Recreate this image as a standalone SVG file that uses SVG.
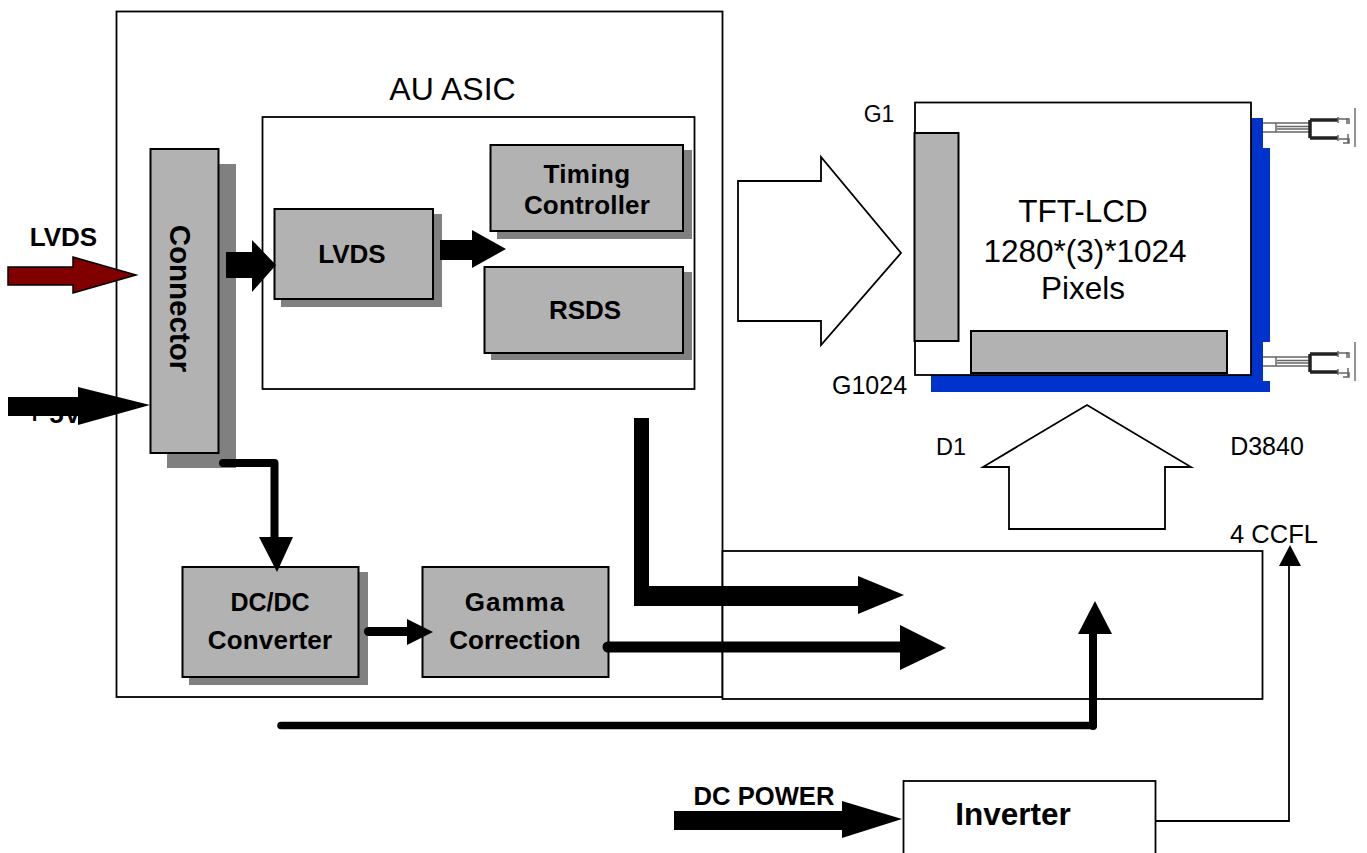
<svg xmlns="http://www.w3.org/2000/svg" width="1367" height="853" viewBox="0 0 1367 853">
<style>
.box{fill:#fff;stroke:#000;stroke-width:1.800}
.block{fill:#b2b2b2;stroke:#000;stroke-width:2}
.shadow{fill:#808080}
.hollow{fill:#fff;stroke:#000;stroke-width:1.800}
.bar{fill:none;stroke:#000;stroke-linejoin:round;stroke-linecap:round}
.thin{fill:none;stroke:#000;stroke-width:1.800}
.head{fill:#000}
text{font-family:"Liberation Sans",Arial,sans-serif;fill:#000;text-anchor:middle}
.b{font-weight:bold;font-size:26px}
.r{font-size:32px}
.s{font-size:25px}
.wire{fill:none;stroke:#666;stroke-width:1.500}
.plug{fill:none;stroke:#222;stroke-width:3.500}
.end{fill:none;stroke:#888;stroke-width:1.800}
</style>
<defs>
<g id="lamp">
<path class="wire" d="M0 8H47M0 17H47M13 8V17M14 11.500H47M14 14H47"/>
<path class="plug" d="M47 5H75M47 5V23M47 23H75"/>
<path class="wire" d="M75 2V8M75 20V26M75 4H86V9M84 3V9M76 24H86V28H80M85 19V28"/>
<path class="end" d="M92 -7V32"/>
</g>
</defs>
<g id="main-board"><rect class="box" x="116.500" y="11.500" width="606" height="685.500"/></g>
<g id="backlight-driver"><rect class="box" x="722.500" y="551" width="540" height="148"/></g>
<g id="asic"><rect class="box" x="262.500" y="117" width="432" height="272"/>
<text class="r" x="452.500" y="100">AU ASIC</text></g>
<g id="blue-frame">
<path fill="#0033cc" d="M1251 118H1263V148H1270V342H1263V381H1270V392H931V375H1251Z"/>
</g>
<g id="lamp-top"><use href="#lamp" x="1263" y="115"/></g>
<g id="lamp-bottom"><use href="#lamp" x="1263" y="349"/></g>
<g id="panel"><rect class="box" x="915" y="102.500" width="336" height="272.500"/>
<text x="1083" y="221.500" style="font-size:31.500px">TFT-LCD</text>
<text x="1085" y="261.500" style="font-size:31.500px">1280*(3)*1024</text>
<text x="1083" y="299" style="font-size:31.500px">Pixels</text></g>
<g id="gate-driver"><rect class="block" x="914.500" y="133" width="44" height="208"/></g>
<g id="source-driver"><rect class="block" x="971" y="331" width="256" height="42"/></g>
<g id="labels">
<text x="879" y="122" style="font-size:23px">G1</text>
<text class="s" x="869.500" y="394">G1024</text>
<text x="951" y="455" style="font-size:23.500px">D1</text>
<text class="s" x="1267" y="455">D3840</text>
<text x="1274" y="543" style="font-size:25.500px">4 CCFL</text>
</g>
<g id="plus5v-label"><text class="b" x="54" y="423">+ 5V</text></g>
<g id="lvds-label"><text class="b" x="63.500" y="246">LVDS</text></g>
<g id="connector"><rect class="shadow" x="167" y="164" width="69" height="304"/>
<rect class="block" x="150.500" y="149" width="68" height="304"/>
<text class="b" transform="translate(170,298.500) rotate(90)" style="font-size:29.500px">Connector</text></g>
<g id="lvds"><rect class="shadow" x="281" y="214" width="161" height="93"/>
<rect class="block" x="274.500" y="209" width="158.500" height="90"/>
<text class="b" x="352" y="263">LVDS</text></g>
<g id="timing"><rect class="shadow" x="497" y="150" width="195" height="89"/>
<rect class="block" x="490.500" y="145" width="192.500" height="86"/>
<text class="b" x="587" y="182.500" style="letter-spacing:.4px">Timing</text><text class="b" x="587" y="214" style="letter-spacing:.2px">Controller</text></g>
<g id="rsds"><rect class="shadow" x="491" y="272" width="201" height="88"/>
<rect class="block" x="484.500" y="267" width="198.500" height="86"/>
<text class="b" x="585" y="319">RSDS</text></g>
<g id="dcdc"><rect class="shadow" x="189" y="572" width="179" height="113"/>
<rect class="block" x="182.500" y="567" width="176" height="110"/>
<text class="b" x="270" y="611" style="font-size:25px">DC/DC</text><text class="b" x="270" y="649" style="letter-spacing:.2px">Converter</text></g>
<g id="gamma"><rect class="block" x="422.500" y="567" width="186" height="110"/>
<text class="b" x="515" y="611" style="letter-spacing:1px">Gamma</text><text class="b" x="515" y="649">Correction</text></g>
<g id="inverter"><rect class="box" x="903.500" y="781" width="252" height="90"/>
<text x="1013" y="825" font-size="31.500" font-weight="bold">Inverter</text></g>
<g id="dc-power-label"><text class="b" x="764" y="805" style="font-size:25.600px">DC POWER</text></g>
<g id="connectors">
<polygon fill="#800000" stroke="#000" stroke-width="1.500" points="8,267 73,267 73,257 136,275 73,293 73,285 8,285"/>
<polygon class="head" points="8,397 78,397 78,387 150,405 78,425 78,416 8,416"/>
<polygon class="head" points="226,252 252,252 252,240 276,265 252,292 252,278 226,278"/>
<polygon class="head" points="440,240 472,240 472,230 506,249 472,268 472,260 440,260"/>
<polygon class="hollow" points="738,181 821,181 821,157 901,253 821,345 821,321 738,321"/>
<polygon class="hollow" points="1009,529 1009,467 983,467 1087,405 1191,467 1165,467 1165,529"/>
<path class="bar" stroke-width="8" d="M223 463H274.500V540"/>
<polygon class="head" points="259,537 293,537 277,572"/>
<path class="bar" stroke-width="9" d="M368.500 631.500H410"/>
<polygon class="head" points="407,619 433,632 407,645"/>
<polygon class="head" points="634,418 649,418 649,586 860,586 860,606 634,606"/>
<polygon class="head" points="858,576 904,595 858,614"/>
<path class="bar" stroke-width="11" d="M608 647H905"/>
<polygon class="head" points="900,625 946,648 900,670"/>
<path class="bar" stroke-width="7.500" d="M281 725.500H1093"/>
<path class="bar" stroke-width="8" d="M1093 726V630"/>
<polygon class="head" points="1078,634 1112,634 1095,601"/>
<polygon class="head" points="674,811 842,811 842,801 902,819 842,838 842,830 674,830"/>
<path class="thin" d="M1155 821H1289V564"/>
<polygon class="head" points="1279,566 1301,566 1290,545"/>
</g>
</svg>
